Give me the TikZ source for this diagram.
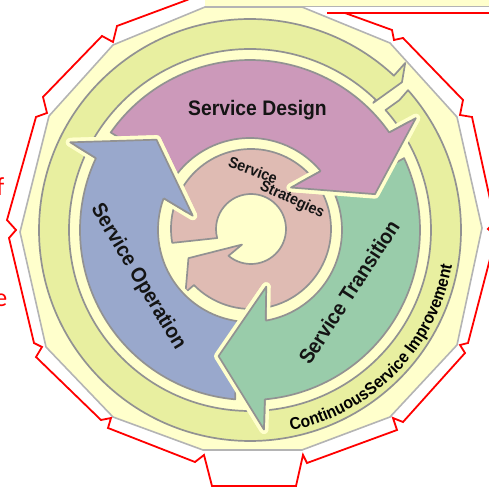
\documentclass[tikz,border=0pt]{standalone}
\usepackage{fontspec}
\setmainfont{Liberation Sans}
\newfontfamily\nar{Liberation Sans}[FakeStretch=0.92]
\newfontfamily\calib{Carlito}
\usetikzlibrary{decorations.text}
\definecolor{bgy}{HTML}{FFFFCC}
\definecolor{csi}{HTML}{E8EFA0}
\definecolor{polyg}{HTML}{B4B4B4}
\definecolor{og}{HTML}{929292}
\definecolor{des}{HTML}{CC99BA}
\definecolor{ope}{HTML}{99A8CC}
\definecolor{tra}{HTML}{99CCAA}
\definecolor{strc}{HTML}{DFBBB3}
\definecolor{redl}{HTML}{FF0000}
\newcommand{\bigarrow}[2]{([shift={(C)}]#2-9:170pt) arc[start angle=#2-9, end angle=#1+1, radius=170pt]
 -- ([shift={(C)}]#1:200pt) -- ([shift={(C)}]#1-18:130pt) -- ([shift={(C)}]#1+12:59pt)
 -- ([shift={(C)}]#1+5.8:92pt) arc[start angle=#1+5.8, end angle=#2-12, radius=92pt] -- cycle}
\begin{document}
\begin{tikzpicture}[x=1pt,y=1pt,
  halo/.style={draw=bgy, line width=9pt, line join=round},
  outl/.style={draw=og, line width=1.7pt, line join=round},
  redline/.style={draw=redl, line width=1.8pt, line join=miter},
  bigtxt/.style={font=\nar\bfseries\fontsize{21}{21}\selectfont, inner sep=0, text=black!92},
  smalltxt/.style={font=\nar\bfseries\fontsize{15.5}{15.5}\selectfont, inner sep=0, text=black!92},
  redtxt/.style={text=redl, font=\calib\fontsize{26}{26}\selectfont, anchor=base east, inner sep=0}]
\useasboundingbox (0,0) rectangle (489,493);
\coordinate (C) at (250,263);
\coordinate (S) at (251,264);
% top strip
\fill[bgy] (205,486) rectangle (489,493);
\draw[draw=polyg, line width=1.6pt] (205,486.5) -- (489,486.5);
% outer polygon
\path[fill=bgy, draw=polyg, line width=1.6pt, line join=round]
 (205,486) -- (302,486) -- (390,450) -- (457,376) -- (482,265) -- (457,148) -- (390,76)
 -- (302,43) -- (203,43) -- (113,76) -- (46,146) -- (20,261) -- (49,377) -- (113,448) -- cycle;
% red outline
\draw[redline] (327,480) -- (495,480);
\draw[redline] (345,480) -- (392,463) -- (394,453) -- (403,455) -- (463,393) -- (460,378) -- (472,376)
 -- (495,271) -- (488,264) -- (496,257) -- (468,150) -- (460,148) -- (465,140) -- (403,71)
 -- (393,75) -- (397,63) -- (307,30) -- (303,38) -- (296,7) -- (212,7) -- (204,38) -- (195,31)
 -- (108,65) -- (111,75) -- (101,73) -- (36,136) -- (42,146) -- (34,150) -- (9,255) -- (16,263)
 -- (7,273) -- (36,376) -- (47,380) -- (43,396) -- (102,457) -- (113,451) -- (117,467) -- (187,493) -- (195,497);
% CSI ring
\path[fill=csi, outl] ([shift={(C)}]41.5:211pt) arc[start angle=41.5, end angle=-313, radius=211pt]
 -- ([shift={(C)}]47.1:228pt) -- ([shift={(C)}]44.2:212pt) -- ([shift={(C)}]45.9:177pt) -- ([shift={(C)}]46:181pt)
 arc[start angle=-314, end angle=41.5, radius=181pt] -- ([shift={(C)}]41:198pt) -- cycle;
% strategies ring
\path[fill=strc, outl] ([shift={(S)}]190:80pt) arc[start angle=190, end angle=-135.5, radius=80pt]
 -- ([shift={(S)}]224:91pt) -- ([shift={(S)}]205:69pt) -- ([shift={(S)}]240:18pt)
 -- ([shift={(S)}]230:35pt) arc[start angle=-130, end angle=195, radius=35pt] -- cycle;
% big arrows
\foreach \h/\p/\col in {34/154/des, -86/34/tra, 154/274/ope}{
  \path[halo] \bigarrow{\h}{\p};
  \path[fill=\col, outl] \bigarrow{\h}{\p};
}
\foreach \h/\col in {34/des, -86/tra, 154/ope}{
  \path[halo, line cap=round] ([shift={(C)}]\h:200pt) -- ([shift={(C)}]\h-18:130pt) -- ([shift={(C)}]\h+12:59pt);
  \fill[\col] ([shift={(C)}]\h:200pt) -- ([shift={(C)}]\h-18:130pt) -- ([shift={(C)}]\h+12:59pt) -- cycle;
  \path[outl] ([shift={(C)}]\h+1:170pt) -- ([shift={(C)}]\h:200pt) -- ([shift={(C)}]\h-18:130pt)
    -- ([shift={(C)}]\h+12:59pt) -- ([shift={(C)}]\h+5.8:92pt);
}
% texts
\node[bigtxt, anchor=base] (sd) at (257.5,377) {Service Design};
\node[bigtxt, rotate=-59] (so) at (138,216) {Service Operation};
\node[bigtxt, rotate=57] (st) at (349,201) {Service Transition};
\node[smalltxt, rotate=-20] (ss1) at (253,323) {Service};
\node[smalltxt, rotate=-25] (ss2) at (292,293) {Strategies};
\path[decorate, decoration={text along path, text align=center,
  text={|\nar\bfseries\fontsize{17}{17}\selectfont|ContinuousService Improvement}}]
  ([shift={(C)}]-85:205pt) arc[start angle=-85, end angle=-3.4, radius=205pt];
\node[redtxt] (rf) at (4.5,297) {f};
\node[redtxt] (re) at (7.5,186) {e};
\end{tikzpicture}
\end{document}
